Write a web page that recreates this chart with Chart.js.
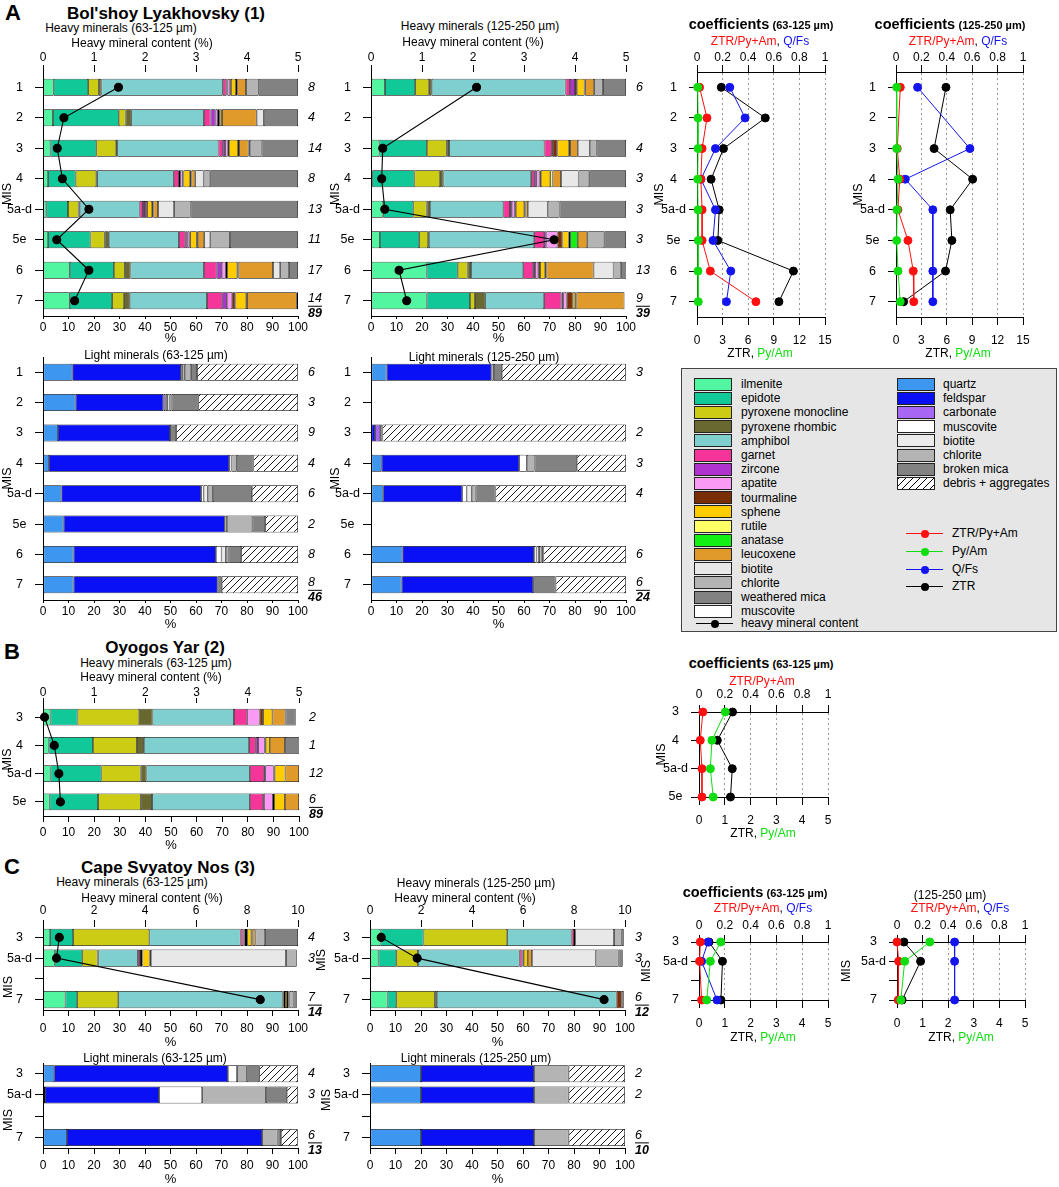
<!DOCTYPE html>
<html>
<head>
<meta charset="utf-8">
<title>Heavy and light minerals</title>
<script src="https://cdn.jsdelivr.net/npm/chart.js@4.4.1/dist/chart.umd.min.js"></script>
<style>
  html, body { margin: 0; padding: 0; background: #fff; }
  body { position: relative; width: 1059px; height: 1187px; overflow: hidden;
         font-family: 'Liberation Sans', Arial, Helvetica, sans-serif; color: #000; }
  canvas { position: absolute; }
  .t { position: absolute; white-space: nowrap; transform: translate(-50%, -50%); line-height: 1; font-size: 12px; }
  .v { position: absolute; white-space: nowrap; transform: translate(-50%, -50%) rotate(-90deg); line-height: 1; font-size: 12.5px; }
  #legend { position: absolute; left: 681px; top: 368px; width: 374px; height: 262px;
            background: #e6e6e6; border: 1px solid #444; font-size: 12px; }
  #legend div { position: absolute; }
  .sw { width: 36px; height: 11px; border: 1px solid #222; }
  .lt { transform: translateY(-50%); white-space: nowrap; line-height: 1; }
</style>
</head>
<body>
<div id="legend"></div>
<script>
// MIS rows
var misA = ['1', '2', '3', '4', '5a-d', '5e', '6', '7'];
var misB = ['3', '4', '5a-d', '5e'];
var misC = ['3', '5a-d', '', '7'];

var heavyNames = ['ilmenite', 'epidote', 'pyroxene monocline', 'pyroxene rhombic', 'amphibol', 'garnet',
  'zircone', 'apatite', 'tourmaline', 'sphene', 'rutile', 'anatase', 'leucoxene', 'biotite',
  'chlorite', 'weathered mica', 'muscovite'];
var heavyColors = ['#52f5a0', '#10c898', '#cccc14', '#686830', '#80cfcf', '#f5359a', '#b033d0',
  '#fa9af5', '#7a2e05', '#ffcc00', '#ffff66', '#14f014', '#e09a2a', '#e8e8e8', '#b4b4b4',
  '#828282', '#ffffff'];
var lightNames = ['quartz', 'feldspar', 'carbonate', 'muscovite', 'biotite', 'chlorite',
  'broken mica', 'debris + aggregates'];
var lightColors = ['#3d96f0', '#0a10f5', '#a866f5', '#ffffff', '#ebebeb', '#b4b4b4', '#828282', 'hatch'];

// heavy minerals, % (columns in heavyNames order), one row per MIS
var heavyA63 = [
  [4.2, 13.5, 4.2, 1.0, 47.6, 1.4, 0.5, 1.0, 0.3, 2.0, 0.5, 0, 3.4, 0, 5.0, 15.4, 0],
  [3.9, 25.8, 2.7, 2.2, 28.5, 2.6, 2.0, 0.9, 0.5, 0.8, 0.3, 0, 13.6, 2.8, 0, 13.4, 0],
  [2.9, 18.0, 7.8, 0.4, 39.7, 1.7, 0.9, 1.0, 0.5, 3.6, 0.4, 0, 3.7, 0.5, 4.6, 14.3, 0],
  [2.0, 10.8, 8.1, 0.3, 30.1, 2.0, 0.5, 1.0, 0.3, 2.6, 0.5, 0, 1.5, 3.3, 2.6, 34.4, 0],
  [1.3, 8.5, 4.1, 0.5, 23.5, 1.3, 0.8, 0.8, 0, 2.0, 0.5, 0, 1.8, 6.3, 6.5, 42.1, 0],
  [2.0, 16.6, 5.6, 1.6, 27.5, 2.5, 0.8, 0.8, 0.3, 2.6, 0.4, 0, 2.5, 2.4, 7.7, 26.7, 0],
  [10.5, 17.3, 4.3, 2.2, 28.8, 5.0, 2.0, 1.6, 0.5, 4.0, 0.5, 0, 13.5, 2.8, 3.5, 3.5, 0],
  [10.5, 16.6, 4.7, 2.2, 30.3, 6.0, 1.8, 2.1, 1.3, 4.2, 0.3, 0, 19.5, 0, 0, 0.5, 0]
];
var heavyA125 = [
  [5.5, 11.8, 5.5, 1.0, 52.5, 1.7, 2.0, 0, 0.7, 3.0, 0.3, 0, 3.5, 0, 3.5, 9.0, 0],
  null,
  [3.3, 18.6, 7.8, 0.9, 37.4, 2.9, 0.4, 0, 1.8, 4.6, 0.4, 0, 3.0, 4.7, 2.7, 11.5, 0],
  [0.5, 16.5, 10.1, 1.3, 34.4, 1.2, 0.8, 1.3, 0.5, 3.7, 0.9, 0, 3.3, 6.9, 4.2, 14.4, 0],
  [4.8, 11.8, 5.2, 1.3, 28.8, 2.6, 0.7, 1.3, 0.3, 3.3, 0.5, 0, 0.9, 7.8, 4.6, 26.1, 0],
  [3.5, 15.4, 3.5, 0.3, 41.3, 3.9, 0.9, 4.3, 2.0, 2.4, 0.6, 3.0, 3.7, 0, 6.7, 8.5, 0],
  [21.8, 12.2, 3.9, 1.3, 20.5, 3.9, 0.7, 1.3, 0.7, 2.0, 0.5, 0, 18.5, 7.8, 3.0, 2.0, 0],
  [21.8, 17.0, 2.0, 4.0, 23.1, 6.8, 0.7, 1.3, 2.4, 1.0, 0.5, 0, 18.8, 0, 0, 0, 0]
];
var heavyB63 = [
  [2.9, 10.6, 24.1, 5.2, 31.8, 5.2, 0, 4.8, 1.4, 3.6, 0, 0, 5.1, 0, 0, 4.0, 0],
  [2.2, 17.3, 17.2, 2.7, 41.1, 2.6, 0.9, 2.6, 0.4, 1.6, 0, 0, 5.9, 0, 0, 6.1, 0],
  [2.9, 19.9, 15.3, 2.3, 40.4, 5.6, 0.4, 3.3, 0.4, 4.2, 0, 0, 5.3, 0, 0, 0, 0],
  [2.6, 18.9, 16.7, 4.4, 38.2, 5.2, 0.3, 3.5, 0.5, 4.2, 0, 0, 5.5, 0, 0, 0, 0]
];
var heavyC63 = [
  [2.8, 9.0, 29.9, 0, 35.8, 1.1, 0.5, 0.5, 0.5, 1.6, 0.5, 0, 1.1, 0, 3.8, 12.9, 0],
  [4.6, 10.8, 6.0, 0.3, 15.5, 0.8, 0.4, 0, 0.6, 2.8, 0, 0, 0.5, 53.0, 4.2, 0, 0],
  null,
  [8.8, 4.6, 16.1, 0, 64.4, 0, 0.5, 0, 0.5, 0.8, 0.5, 0, 0.5, 0, 1.5, 1.3, 0]
];
var heavyC125 = [
  [4.1, 16.9, 32.8, 0, 25.2, 1.0, 0, 0, 0.5, 0, 0, 0, 0, 15.2, 3.0, 0.8, 0],
  [3.3, 7.0, 8.5, 0, 39.9, 1.1, 0, 0, 0.5, 1.6, 0, 0, 1.6, 25.0, 9.0, 1.6, 0],
  null,
  [6.9, 3.4, 15.1, 0.8, 70.5, 0, 0, 0, 2.0, 0, 0, 0, 0, 0, 0, 0.8, 0]
];

// light minerals, % (columns in lightNames order)
var lightA63 = [
  [11.5, 42.6, 0, 0.7, 0.8, 2.5, 2.3, 39.6],
  [12.8, 34.4, 0.8, 0.7, 0.9, 0.8, 10.5, 39.1],
  [5.9, 43.9, 0, 0, 0, 0, 2.4, 47.8],
  [2.3, 70.7, 0, 0.9, 0, 2.1, 6.5, 17.5],
  [7.2, 54.8, 0, 1.0, 1.6, 2.0, 15.3, 18.1],
  [8.1, 63.2, 0, 0.8, 0, 10.0, 5.0, 12.9],
  [12.0, 55.8, 0, 2.2, 1.7, 1.0, 5.0, 22.3],
  [12.0, 56.5, 0, 0, 0, 0, 1.6, 29.9]
];
var lightA125 = [
  [6.1, 41.2, 0, 0, 0, 0.9, 3.1, 48.7],
  null,
  [0, 1.6, 2.0, 0, 0, 0, 0.9, 95.5],
  [4.2, 53.9, 0, 3.0, 0, 3.0, 16.6, 19.3],
  [4.8, 31.0, 0, 1.7, 2.0, 1.5, 7.8, 51.2],
  null,
  [12.3, 51.6, 0, 1.0, 1.0, 1.0, 0.7, 32.4],
  [12.0, 51.6, 0, 0, 0, 0, 8.8, 27.6]
];
var lightC63 = [
  [4.4, 68.1, 0, 3.6, 0, 3.8, 4.9, 15.2],
  [0.8, 44.7, 0, 16.9, 0, 25.0, 8.2, 4.4],
  null,
  [9.4, 76.5, 0, 0, 0, 6.1, 1.3, 6.6]
];
var lightC125 = [
  [20.0, 44.3, 0, 0, 0, 13.6, 0, 22.1],
  [20.0, 44.3, 0, 0, 0, 13.6, 0, 22.1],
  null,
  [20.0, 44.3, 0, 0, 0, 13.6, 0, 22.1]
];

// heavy mineral content (%)
var contentA63 = [1.48, 0.41, 0.28, 0.38, 0.90, 0.27, 0.90, 0.62];
var contentA125 = [2.07, null, 0.23, 0.21, 0.27, 3.59, 0.55, 0.70];
var contentB63 = [0.03, 0.22, 0.31, 0.34];
var contentC63 = [0.64, 0.53, null, 8.52];
var contentC125 = [0.44, 1.85, null, 9.18];

// number of samples
var nHeavyA63 = ['8', '4', '14', '8', '13', '11', '17', '14'];
var nHeavyA125 = ['6', '', '4', '3', '3', '3', '13', '9'];
var nLightA63 = ['6', '3', '9', '4', '6', '2', '8', '8'];
var nLightA125 = ['3', '', '2', '3', '4', '', '6', '6'];
var nHeavyB63 = ['2', '1', '12', '6'];
var nHeavyC63 = ['4', '3', '', '7'];
var nHeavyC125 = ['3', '3', '', '6'];
var nLightC63 = ['4', '3', '', '6'];
var nLightC125 = ['2', '2', '', '6'];

// coefficients
var ztrPyAmA63 = [0.02, 0.078, 0.04, 0.03, 0.04, 0.04, 0.104, 0.46];
var qfsA63 = [0.256, 0.376, 0.144, 0.031, 0.144, 0.125, 0.264, 0.23];
var ztrA63 = [2.85, 8.0, 3.1, 1.65, 2.6, 2.45, 11.3, 9.6];
var pyAmA63 = [0.08, 0.12, 0.12, 0.08, 0.12, 0.15, 0.12, 0.15];

var ztrPyAmA125 = [0.034, null, 0.01, 0.03, 0.015, 0.094, 0.136, 0.14];
var qfsA125 = [0.17, null, 0.582, 0.073, 0.29, null, 0.29, 0.29];
var ztrA125 = [5.9, null, 4.5, 9.05, 6.4, 6.6, 5.85, 0.9];
var pyAmA125 = [0.08, null, 0.08, 0.24, 0.12, 0.08, 0.24, 0.5];

var ztrPyAmB63 = [0.03, 0.01, 0.023, 0.023];
var ztrB63 = [1.30, 0.71, 1.29, 1.22];
var pyAmB63 = [1.02, 0.50, 0.44, 0.55];

var ztrPyAmC63 = [0.01, 0.005, null, 0.02];
var qfsC63 = [0.07, 0.02, null, 0.14];
var ztrC63 = [0.39, 0.91, null, 0.85];
var pyAmC63 = [0.84, 0.44, null, 0.30];

var ztrPyAmC125 = [0.0, 0.013, null, 0.01];
var qfsC125 = [0.45, 0.45, null, 0.45];
var ztrC125 = [0.27, 0.92, null, 0.2];
var pyAmC125 = [1.28, 0.3, null, 0.15];

var FONT = "'Liberation Sans', Arial, Helvetica, sans-serif";
var RED = '#ff1010', BLUE = '#1414f0', GREEN = '#10dd10';
Chart.defaults.font.family = FONT;
Chart.defaults.font.size = 12;
Chart.defaults.color = '#000';

function makeHatch() {
  var c = document.createElement('canvas');
  c.width = 7; c.height = 7;
  var g = c.getContext('2d');
  g.fillStyle = '#fff';
  g.fillRect(0, 0, 7, 7);
  g.strokeStyle = '#000';
  g.lineWidth = 0.9;
  g.beginPath();
  g.moveTo(-1, 8); g.lineTo(8, -1);
  g.moveTo(-1, 1); g.lineTo(1, -1);
  g.moveTo(6, 8); g.lineTo(8, 6);
  g.stroke();
  return g.createPattern(c, 'repeat');
}
var HATCH = makeHatch();

// area = chart area in page pixels [l, t, r, b], m = margins [left, top, right, bottom]
function makeCanvas(area, m) {
  var W = Math.round(area[2] - area[0] + m[0] + m[2]);
  var H = Math.round(area[3] - area[1] + m[1] + m[3]);
  var c = document.createElement('canvas');
  c.width = W; c.height = H;
  c.style.left = (area[0] - m[0]) + 'px';
  c.style.top = (area[1] - m[1]) + 'px';
  document.body.appendChild(c);
  return c;
}

function txt(x, y, html, css, cls) {
  var d = document.createElement('div');
  d.className = cls || 't';
  d.style.left = x + 'px';
  d.style.top = y + 'px';
  d.innerHTML = html;
  if (css) d.style.cssText += css;
  document.body.appendChild(d);
}

var countsPlugin = {
  id: 'counts',
  afterDatasetsDraw: function(chart, args, opts) {
    var labels = opts.labels || [];
    var ctx = chart.ctx, x = chart.chartArea.right + 10, ys = chart.scales.y;
    ctx.save();
    ctx.fillStyle = '#000';
    ctx.strokeStyle = '#000';
    ctx.textAlign = 'left';
    ctx.textBaseline = 'middle';
    labels.forEach(function(lab, i) {
      if (!lab) return;
      var y = ys.getPixelForValue(i);
      ctx.font = 'italic 12.5px ' + FONT;
      if (i === labels.length - 1 && opts.total) {
        var w1 = ctx.measureText(lab).width;
        ctx.fillText(lab, x, y - 2);
        ctx.font = 'italic bold 12.5px ' + FONT;
        var w2 = ctx.measureText(opts.total).width;
        ctx.fillText(opts.total, x, y + 13);
        ctx.lineWidth = 1;
        ctx.beginPath();
        ctx.moveTo(x, y + 5.5);
        ctx.lineTo(x + Math.max(w1, w2), y + 5.5);
        ctx.stroke();
      } else {
        ctx.fillText(lab, x, y);
      }
    });
    ctx.restore();
  }
};

function barChart(o) {
  var m = o.m;
  var cv = makeCanvas(o.area, m);
  var sets = o.names.map(function(nm, k) {
    return {
      type: 'bar', label: nm,
      data: o.rows.map(function(row) { return row ? row[k] : null; }),
      backgroundColor: o.colors[k] === 'hatch' ? HATCH : o.colors[k],
      borderColor: '#000', borderWidth: 0.75, borderSkipped: false,
      barPercentage: o.bar, categoryPercentage: 1, stack: 'm', order: 2
    };
  });
  if (o.line) {
    sets.push({
      type: 'line', label: 'heavy mineral content', data: o.line, indexAxis: 'y',
      xAxisID: 'x2', yAxisID: 'y', borderColor: '#000', backgroundColor: '#000',
      borderWidth: 1.1, pointRadius: 4, pointHoverRadius: 4, spanGaps: true,
      tension: 0, clip: false, order: 0
    });
  }
  var scales = {
    y: {
      type: 'category', labels: o.labels, stacked: true, offset: true,
      grid: { offset: false, drawOnChartArea: false, tickLength: 8, tickColor: '#000' },
      border: { color: '#000', width: 1 },
      ticks: { font: { size: 12.5 }, color: '#000', padding: 3, crossAlign: 'center', autoSkip: false },
      title: { display: !o.noTitle, text: 'MIS', font: { size: 12.5 }, color: '#000', padding: 0 },
      afterFit: function(s) { s.width = m[0]; }
    },
    x: {
      type: 'linear', position: 'bottom', stacked: true, min: 0, max: 100,
      ticks: { stepSize: 10, font: { size: 12 }, color: '#000', padding: o.xpad, autoSkip: false, maxRotation: 0 },
      grid: { drawOnChartArea: false, tickLength: o.xtick, tickColor: '#000' },
      border: { color: '#000', width: 1 },
      title: { display: true, text: '%', font: { size: 13 }, color: '#000', padding: 0 },
      afterFit: function(s) { s.height = m[3]; }
    }
  };
  if (o.line) {
    scales.x2 = {
      type: 'linear', position: 'top', min: 0, max: o.lmax,
      ticks: { stepSize: o.lstep, font: { size: 12 }, color: '#000', padding: o.tpad, autoSkip: false, maxRotation: 0 },
      grid: { drawOnChartArea: false, tickLength: o.ttick, tickColor: '#000' },
      border: { display: false },
      afterFit: function(s) { s.height = m[1]; }
    };
  }
  new Chart(cv, {
    type: 'bar',
    data: { labels: o.labels, datasets: sets },
    options: {
      indexAxis: 'y', responsive: false, maintainAspectRatio: false, animation: false, events: [],
      layout: { padding: { left: 0, right: m[2], top: o.line ? 0 : m[1], bottom: 0 } },
      plugins: { legend: { display: false }, tooltip: { enabled: false },
                 counts: { labels: o.counts, total: o.total } },
      scales: scales
    },
    plugins: [countsPlugin]
  });
}

function coefChart(o) {
  var m = o.m;
  var cv = makeCanvas(o.area, m);
  function mk(label, data, col, axis, order) {
    return {
      label: label, data: data, xAxisID: axis, yAxisID: 'y', indexAxis: 'y',
      borderColor: col, backgroundColor: col, borderWidth: 1, pointRadius: 4,
      pointHoverRadius: 4, spanGaps: true, tension: 0, clip: false, order: order
    };
  }
  var sets = [mk('ZTR', o.ztr, '#000', 'x', 4)];
  if (o.qfs) sets.push(mk('Q/Fs', o.qfs, BLUE, 'x2', 3));
  sets.push(mk('ZTR/Py+Am', o.ztrPyAm, RED, 'x2', 2));
  sets.push(mk('Py/Am', o.pyAm, GREEN, 'x', 1));
  new Chart(cv, {
    type: 'line',
    data: { labels: o.labels, datasets: sets },
    options: {
      indexAxis: 'y', responsive: false, maintainAspectRatio: false, animation: false, events: [],
      layout: { padding: { left: 0, right: m[2], top: 0, bottom: 0 } },
      plugins: { legend: { display: false }, tooltip: { enabled: false } },
      scales: {
        y: {
          type: 'category', labels: o.labels, offset: o.offset,
          grid: { offset: false, drawOnChartArea: false, tickLength: 8, tickColor: '#000' },
          border: { color: '#000', width: 1 },
          ticks: { font: { size: 12.5 }, color: '#000', padding: 3, crossAlign: 'center', autoSkip: false },
          title: { display: true, text: 'MIS', font: { size: 12.5 }, color: '#000', padding: 0 },
          afterFit: function(s) { s.width = m[0]; }
        },
        x: {
          type: 'linear', position: 'bottom', min: 0, max: o.bmax,
          ticks: { stepSize: o.bstep, font: { size: 12 }, color: '#000', padding: 8.5, autoSkip: false, maxRotation: 0 },
          grid: { drawOnChartArea: false, tickLength: 8, tickColor: '#000' },
          border: { color: '#000', width: 1 },
          afterFit: function(s) { s.height = m[3]; }
        },
        x2: {
          type: 'linear', position: 'top', min: 0, max: 1,
          ticks: {
            stepSize: 0.2, font: { size: 12 }, color: '#000', padding: o.tpad, autoSkip: false, maxRotation: 0,
            callback: function(v) { return String(+v.toFixed(1)); }
          },
          grid: {
            drawOnChartArea: true, tickLength: 7, tickColor: '#000', lineWidth: 1,
            color: function(c) { return c.tick && c.tick.value === 0 ? 'rgba(0,0,0,0)' : '#9a9a9a'; }
          },
          border: { color: '#000', width: 1, dash: [2, 3] },
          afterFit: function(s) { s.height = m[1]; }
        }
      }
    }
  });
}

// ---------- A: Bol'shoy Lyakhovsky ----------
barChart({ area: [43, 72, 298, 316], m: [43, 30, 30, 30], labels: misA, names: heavyNames, colors: heavyColors,
  rows: heavyA63, bar: 0.56, line: contentA63, lmax: 5, lstep: 1, ttick: 7, tpad: 0, xtick: 3, xpad: 1,
  counts: nHeavyA63, total: '89' });
barChart({ area: [371, 72, 626, 316], m: [43, 30, 30, 30], labels: misA, names: heavyNames, colors: heavyColors,
  rows: heavyA125, bar: 0.56, line: contentA125, lmax: 5, lstep: 1, ttick: 7, tpad: 0, xtick: 3, xpad: 1,
  counts: nHeavyA125, total: '39' });
barChart({ area: [43, 357, 298, 599.5], m: [43, 14, 30, 32], labels: misA, names: lightNames, colors: lightColors,
  rows: lightA63, bar: 0.56, xtick: 3, xpad: 1, counts: nLightA63, total: '46' });
barChart({ area: [371, 357, 626, 599.5], m: [43, 14, 30, 32], labels: misA, names: lightNames, colors: lightColors,
  rows: lightA125, bar: 0.56, xtick: 3, xpad: 1, counts: nLightA125, total: '24' });
coefChart({ area: [697, 72, 825, 317], m: [45, 30, 16, 32], labels: misA, offset: true, bmax: 15, bstep: 3, tpad: 0.5,
  ztrPyAm: ztrPyAmA63, qfs: qfsA63, ztr: ztrA63, pyAm: pyAmA63 });
coefChart({ area: [896, 72, 1023, 317], m: [45, 30, 16, 32], labels: misA, offset: true, bmax: 15, bstep: 3, tpad: 0.5,
  ztrPyAm: ztrPyAmA125, qfs: qfsA125, ztr: ztrA125, pyAm: pyAmA125 });

// ---------- B: Oyogos Yar ----------
barChart({ area: [43, 703, 299, 816], m: [43, 30, 30, 37], labels: misB, names: heavyNames, colors: heavyColors,
  rows: heavyB63, bar: 0.6, line: contentB63, lmax: 5, lstep: 1, ttick: 5, tpad: -2, xtick: 6, xpad: 3.5,
  counts: nHeavyB63, total: '89' });
coefChart({ area: [699, 712, 828, 797], m: [45, 30, 16, 32], labels: misB, offset: false, bmax: 5, bstep: 1, tpad: 3.5,
  ztrPyAm: ztrPyAmB63, qfs: null, ztr: ztrB63, pyAm: pyAmB63 });

// ---------- C: Cape Svyatoy Nos ----------
barChart({ area: [43, 927, 298, 1010], m: [43, 30, 30, 40], labels: misC, names: heavyNames, colors: heavyColors,
  rows: heavyC63, bar: 0.82, line: contentC63, lmax: 10, lstep: 2, ttick: 7, tpad: 2, xtick: 6, xpad: 5.5,
  counts: nHeavyC63, total: '14', noTitle: true });
barChart({ area: [370, 927, 625, 1010], m: [58, 30, 30, 40], labels: misC, names: heavyNames, colors: heavyColors,
  rows: heavyC125, bar: 0.82, line: contentC125, lmax: 10, lstep: 2, ttick: 7, tpad: 2, xtick: 6, xpad: 5.5,
  counts: nHeavyC125, total: '12', noTitle: true });
barChart({ area: [43, 1063, 298, 1148], m: [43, 14, 30, 39], labels: misC, names: lightNames, colors: lightColors,
  rows: lightC63, bar: 0.8, xtick: 6, xpad: 4.5, counts: nLightC63, total: '13', noTitle: true });
barChart({ area: [370, 1063, 625, 1148], m: [58, 14, 30, 39], labels: misC, names: lightNames, colors: lightColors,
  rows: lightC125, bar: 0.8, xtick: 6, xpad: 4.5, counts: nLightC125, total: '10', noTitle: true });
coefChart({ area: [699, 942, 828, 1000], m: [60, 30, 16, 32], labels: misC, offset: false, bmax: 5, bstep: 1, tpad: 2.5,
  ztrPyAm: ztrPyAmC63, qfs: qfsC63, ztr: ztrC63, pyAm: pyAmC63 });
coefChart({ area: [897, 942, 1025, 1000], m: [58, 30, 16, 32], labels: misC, offset: false, bmax: 5, bstep: 1, tpad: 2.5,
  ztrPyAm: ztrPyAmC125, qfs: qfsC125, ztr: ztrC125, pyAm: pyAmC125 });

// ---------- texts ----------
var BIG = 'font-weight:bold;font-size:22px;';
var TITLE = 'font-weight:bold;font-size:17px;';
txt(13, 13, 'A', BIG);
txt(166, 13, "Bol'shoy Lyakhovsky (1)", TITLE);
txt(121, 28, 'Heavy minerals (63-125 µm)');
txt(142, 43, 'Heavy mineral content (%)');
txt(480, 26, 'Heavy minerals (125-250 µm)');
txt(473, 42, 'Heavy mineral content (%)');
txt(156, 355, 'Light minerals (63-125 µm)');
txt(484, 357, 'Light minerals (125-250 µm)');

txt(12, 652, 'B', BIG);
txt(165, 647, 'Oyogos Yar (2)', TITLE);
txt(156, 663, 'Heavy minerals (63-125 µm)');
txt(151, 677, 'Heavy mineral content (%)');

txt(12, 867, 'C', BIG);
txt(168, 867, 'Cape Svyatoy Nos (3)', TITLE);
txt(132, 882, 'Heavy minerals (63-125 µm)');
txt(152, 898, 'Heavy mineral content (%)');
txt(476, 883, 'Heavy minerals (125-250 µm)');
txt(465, 898, 'Heavy mineral content (%)');
txt(155, 1058, 'Light minerals (63-125 µm)');
txt(476, 1058, 'Light minerals (125-250 µm)');
// rotated MIS titles for panel C bar charts
txt(8, 987, 'MIS', '', 'v');
txt(321, 960, 'MIS', '', 'v');
txt(8, 1120, 'MIS', '', 'v');
txt(326, 1100, 'MIS', '', 'v');

function coefTitle(x, y, size) {
  txt(x, y, '<b style="font-size:14.5px">coefficients</b>&nbsp;<b style="font-size:11px">(' + size + ' µm)</b>');
}
var topLab = '<span style="color:' + RED + '">ZTR/Py+Am</span>, <span style="color:' + BLUE + '">Q/Fs</span>';
var botLab = 'ZTR, <span style="color:' + GREEN + '">Py/Am</span>';
coefTitle(761, 24, '63-125');
coefTitle(950, 24, '125-250');
txt(760, 41, topLab);
txt(958, 41, topLab);
txt(760, 353, botLab);
txt(958, 353, botLab);

coefTitle(761, 663, '63-125');
txt(762, 681, '<span style="color:' + RED + '">ZTR/Py+Am</span>');
txt(763, 833, botLab);

coefTitle(755, 892, '63-125');
txt(950, 895, '(125-250 µm)');
txt(763, 908, topLab);
txt(960, 908, topLab);
txt(763, 1037, botLab);
txt(961, 1037, botLab);

// ---------- legend ----------
(function() {
  var box = document.getElementById('legend');
  function add(css, html, cls) {
    var d = document.createElement('div');
    if (cls) d.className = cls;
    d.style.cssText = css;
    if (html) d.innerHTML = html;
    box.appendChild(d);
  }
  heavyNames.forEach(function(n, i) {
    var y = 15 + 14.2 * i;
    add('left:12px;top:' + (y - 6.5) + 'px;background:' + heavyColors[i] + ';', '', 'sw');
    add('left:59px;top:' + y + 'px;', n, 'lt');
  });
  lightNames.forEach(function(n, i) {
    var y = 15 + 14.2 * i;
    var bg = lightColors[i] === 'hatch'
      ? 'background:repeating-linear-gradient(135deg,#000 0 1px,#fff 1px 5px);'
      : 'background:' + lightColors[i] + ';';
    add('left:215px;top:' + (y - 6.5) + 'px;' + bg, '', 'sw');
    add('left:261px;top:' + y + 'px;', n, 'lt');
  });
  function lineItem(x, y, col, label, tx) {
    add('left:' + x + 'px;top:' + y + 'px;width:37px;height:1px;background:' + col + ';');
    add('left:' + (x + 14.5) + 'px;top:' + (y - 3.5) + 'px;width:8px;height:8px;border-radius:50%;background:' + col + ';');
    add('left:' + tx + 'px;top:' + y + 'px;', label, 'lt');
  }
  lineItem(224, 164, RED, 'ZTR/Py+Am', 270);
  lineItem(224, 182, GREEN, 'Py/Am', 270);
  lineItem(224, 200, BLUE, 'Q/Fs', 270);
  lineItem(224, 217, '#000', 'ZTR', 270);
  lineItem(14, 254, '#000', 'heavy mineral content', 59);
})();
</script>
</body>
</html>
